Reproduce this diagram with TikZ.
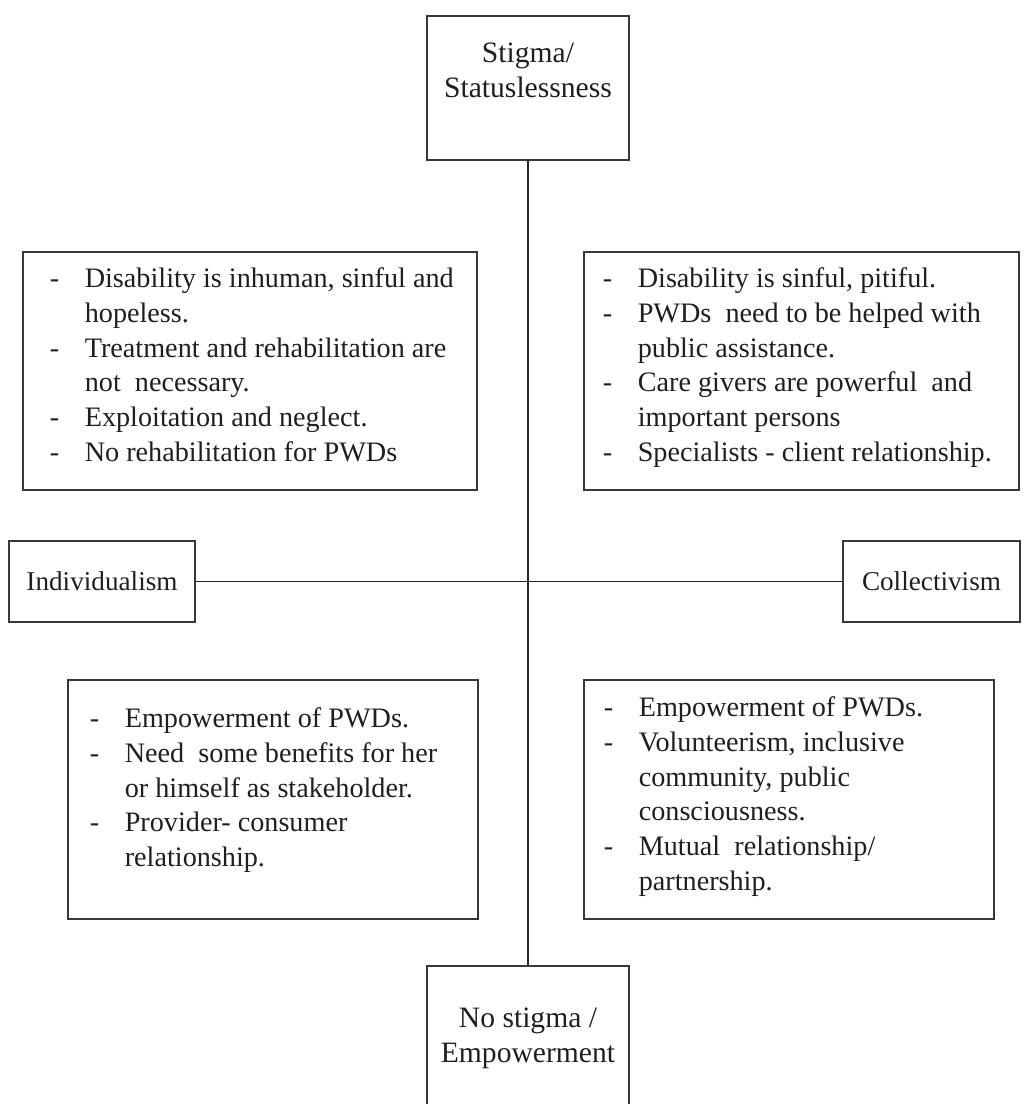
\documentclass[tikz,border=0pt]{standalone}
\usepackage{fontspec}
\setmainfont{Liberation Serif}
\usetikzlibrary{positioning}

\tikzset{
    frame/.style={draw=black!78, line width=0.6pt, inner sep=0pt},
    txt/.style={inner sep=0pt, text=black!88, font=\fontsize{14.1}{17.4}\selectfont},
    head/.style={inner sep=0pt, text=black!88, font=\fontsize{14.8}{17.5}\selectfont},
    pole/.style={inner sep=0pt, text=black!88, font=\fontsize{13.6}{16}\selectfont},
    axis/.style={draw=black!85, line width=0.6pt}
}

\begin{document}
\begin{tikzpicture}[x=0.5pt, y=-0.5pt]
    \useasboundingbox (0,0) rectangle (1024,1104);
    % poles
    \node[frame, minimum width=101pt, minimum height=72pt] (stigma) at (528,88) {};
    \node[frame, minimum width=101pt, minimum height=72pt] (nostigma) at (528,1038) {};
    \node[frame, pole, minimum width=93pt, minimum height=40.5pt] (indiv) at (102,581.5) {Individualism};
    \node[frame, pole, minimum width=88.5pt, minimum height=40.5pt] (coll) at (931.5,581.5) {Collectivism};
    \node[head, anchor=base] (stigmatxt) at ([shift={(0,47)}]stigma.north)
        {\begin{tabular}[t]{@{}c@{}}Stigma/\\Statuslessness\end{tabular}};
    \node[head, anchor=base] (nostigmatxt) at ([shift={(0,62)}]nostigma.north)
        {\begin{tabular}[t]{@{}c@{}}No stigma /\\Empowerment\end{tabular}};
    % axes
    \draw[axis] (stigma.south) -- (nostigma.north);
    \draw[axis] (indiv.east) -- (coll.west);
    % quadrants
    \node[frame, minimum width=227pt, minimum height=119pt] (tl) at (250,371) {};
    \node[frame, minimum width=217.5pt, minimum height=119pt] (tr) at (801.5,371) {};
    \node[frame, minimum width=205pt, minimum height=119.5pt] (bl) at (273,799.5) {};
    \node[frame, minimum width=205pt, minimum height=119.5pt] (br) at (789,799.5) {};
    \node[txt, anchor=base west] (tltxt) at ([shift={(27,36)}]tl.north west)
        {\begin{tabular}[t]{@{}p{17.5pt}@{}l@{}}
        - & Disability is inhuman, sinful and\\
          & hopeless.\\
        - & Treatment and rehabilitation are\\
          & not~ necessary.\\
        - & Exploitation and neglect.\\
        - & No rehabilitation for PWDs
        \end{tabular}};
    \node[txt, anchor=base west] (trtxt) at ([shift={(19,36)}]tr.north west)
        {\begin{tabular}[t]{@{}p{17.5pt}@{}l@{}}
        - & Disability is sinful, pitiful.\\
        - & PWDs~ need to be helped with\\
          & public assistance.\\
        - & Care givers are powerful~ and\\
          & important persons\\
        - & Specialists - client relationship.
        \end{tabular}};
    \node[txt, anchor=base west] (bltxt) at ([shift={(22,48)}]bl.north west)
        {\begin{tabular}[t]{@{}p{17.5pt}@{}l@{}}
        - & Empowerment of PWDs.\\
        - & Need~ some benefits for her\\
          & or himself as stakeholder.\\
        - & Provider- consumer\\
          & relationship.
        \end{tabular}};
    \node[txt, anchor=base west] (brtxt) at ([shift={(20,37)}]br.north west)
        {\begin{tabular}[t]{@{}p{17.5pt}@{}l@{}}
        - & Empowerment of PWDs.\\
        - & Volunteerism, inclusive\\
          & community, public\\
          & consciousness.\\
        - & Mutual~ relationship/\\
          & partnership.
        \end{tabular}};
\end{tikzpicture}
\end{document}
